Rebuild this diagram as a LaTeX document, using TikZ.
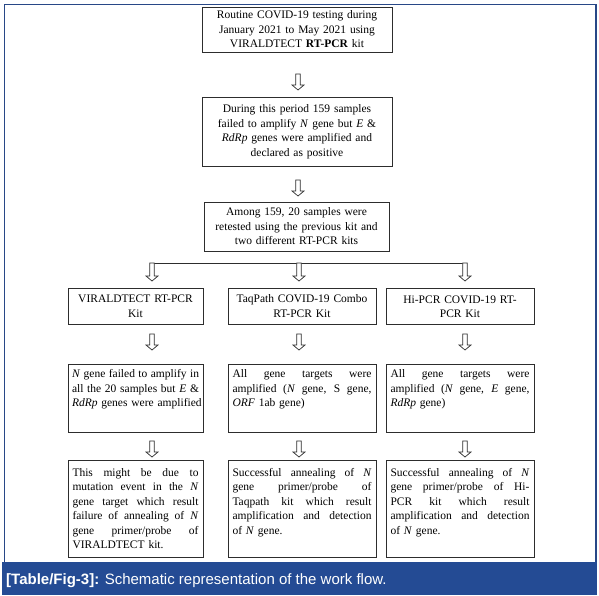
\documentclass[tikz,border=0pt]{standalone}
\usepackage{fontspec}
\setmainfont{Liberation Serif}
\newfontfamily\capfont{Liberation Sans}
\usetikzlibrary{calc}
\newcommand{\jline}[2]{\makebox[#1][s]{\spaceskip=\fontdimen2\font plus 1fil\relax #2}}
\definecolor{bandblue}{RGB}{36,75,148}
\definecolor{framec}{RGB}{40,72,135}
\definecolor{boxc}{RGB}{45,45,45}
\tikzset{
  box/.style={draw=boxc, line width=0.9pt, inner sep=0pt, font=\fontsize{11.5}{14.5}\selectfont},
  txt/.style={inner sep=0pt, font=\fontsize{11.5}{14.5}\selectfont},
  colw/.style={minimum width=#1, text width=#1-9pt},
  hollow/.style={draw=boxc, line width=0.7pt, fill=white,
    to path={let \p1=(\tikztostart), \p2=(\tikztotarget) in
      (\x1-2.3pt,\y1) -- (\x1+2.3pt,\y1) -- (\x1+2.3pt,\y2+5pt) -- (\x1+6pt,\y2+5pt)
      -- (\x1,\y2) -- (\x1-6pt,\y2+5pt) -- (\x1-2.3pt,\y2+5pt) -- cycle}},
  branch/.style={draw=boxc, line width=0.8pt}
}
\begin{document}
\begin{tikzpicture}[x=1pt,y=-1pt]
\useasboundingbox (0,0) rectangle (599,595);
% frame and caption band
\draw[framec, line width=1.3pt] (4.5,562) -- (4.5,4.5) -- (596,4.5) -- (596,562);
\fill[bandblue] (2,562) rectangle (597,595);
\node[anchor=base west, inner sep=0pt, text=white, font=\capfont\fontsize{15}{18}\selectfont] (cap) at (6,584)
  {\textbf{[Table/Fig-3]:} Schematic representation of the work flow.};

% top chain
\node[box, minimum width=190pt, minimum height=45pt, text width=182pt, align=center] (b1) at (297,29.5)
  {Routine COVID-19 testing during\\ January 2021 to May 2021 using\\ VIRALDTECT \textbf{RT-PCR} kit};
\node[box, minimum width=190pt, minimum height=69pt, text width=182pt, align=center] (b2) at (297,131.5)
  {During this period 159 samples\\ failed to amplify \textit{N} gene but \textit{E} \&\\ \textit{RdRp} genes were amplified and\\ declared as positive};
\node[box, minimum width=185pt, minimum height=49pt, text width=177pt, align=center] (b3) at (296.5,226.5)
  {Among 159, 20 samples were\\ retested using the previous kit and\\ two different RT-PCR kits};

% row 1
\node[box, colw=135pt, minimum height=36pt, align=center] (k1) at (135.5,306) {VIRALDTECT RT-PCR\\ Kit};
\node[box, colw=148pt, minimum height=36pt, align=center] (k2) at (302,306) {TaqPath COVID-19 Combo\\ RT-PCR Kit};
\node[box, colw=148pt, minimum height=36pt, align=center] (k3) at (460,306.5) {Hi-PCR COVID-19 RT-\\ PCR Kit};

% row 2
\node[box, minimum width=135pt, minimum height=68pt] (r1) at (135.5,398) {};
\node[box, minimum width=148pt, minimum height=68pt] (r2) at (302,398) {};
\node[box, minimum width=148pt, minimum height=68pt] (r3) at (460,398) {};
\node[txt, text width=127pt, align=left, anchor=north] (r1t) at ($(r1.north)+(0,6)$)
  {\jline{127pt}{\textit{N} gene failed to amplify in}\\ \jline{127pt}{all the 20 samples but \textit{E} \&}\\ \mbox{\textit{RdRp} genes were amplified}};
\node[txt, text width=139pt, align=left, anchor=north] (r2t) at ($(r2.north)+(0,6)$)
  {\jline{139pt}{All gene targets were}\\ \jline{139pt}{amplified (\textit{N} gene, S gene,}\\ \textit{ORF} 1ab gene)};
\node[txt, text width=139pt, align=left, anchor=north] (r3t) at ($(r3.north)+(0,6)$)
  {\jline{139pt}{All gene targets were}\\ \jline{139pt}{amplified (\textit{N} gene, \textit{E} gene,}\\ \textit{RdRp} gene)};

% row 3
\node[box, colw=135pt, minimum height=97pt, align=left] (c1) at (135.5,508.5)
  {\jline{126pt}{This might be due to}\\ \jline{126pt}{mutation event in the \textit{N}}\\ \jline{126pt}{gene target which result}\\ \jline{126pt}{failure of annealing of \textit{N}}\\ \jline{126pt}{gene primer/probe of}\\ VIRALDTECT kit.};
\node[box, colw=148pt, minimum height=97pt, align=left] (c2) at (302,508.5)
  {\jline{139pt}{Successful annealing of \textit{N}}\\ \jline{139pt}{gene primer/probe of}\\ \jline{139pt}{Taqpath kit which result}\\ \jline{139pt}{amplification and detection}\\ of \textit{N} gene.\\ \mbox{}};
\node[box, colw=148pt, minimum height=97pt, align=left] (c3) at (460,508.5)
  {\jline{139pt}{Successful annealing of \textit{N}}\\ \jline{139pt}{gene primer/probe of Hi-}\\ \jline{139pt}{PCR kit which result}\\ \jline{139pt}{amplification and detection}\\ of \textit{N} gene.\\ \mbox{}};

% arrow coordinates
\coordinate (a1s) at (298,74);  \coordinate (a1e) at (298,90);
\coordinate (a2s) at (298,180); \coordinate (a2e) at (298,196);
\coordinate (lA) at (152,263); \coordinate (lB) at (299,263); \coordinate (lC) at (465,263);
\coordinate (lAe) at (152,281); \coordinate (lBe) at (299,281); \coordinate (lCe) at (465,281);
\coordinate (m1s) at (152,334); \coordinate (m1e) at (152,350);
\coordinate (m2s) at (299,334); \coordinate (m2e) at (299,350);
\coordinate (m3s) at (465,334); \coordinate (m3e) at (465,350);
\coordinate (n1s) at (152,441); \coordinate (n1e) at (152,457);
\coordinate (n2s) at (299,441); \coordinate (n2e) at (299,457);
\coordinate (n3s) at (465,441); \coordinate (n3e) at (465,457);

\path[branch] (lA) -- (lC);
\draw[hollow] (a1s) to (a1e);
\draw[hollow] (a2s) to (a2e);
\draw[hollow] (lA) to (lAe);
\draw[hollow] (lB) to (lBe);
\draw[hollow] (lC) to (lCe);
\draw[hollow] (m1s) to (m1e);
\draw[hollow] (m2s) to (m2e);
\draw[hollow] (m3s) to (m3e);
\draw[hollow] (n1s) to (n1e);
\draw[hollow] (n2s) to (n2e);
\draw[hollow] (n3s) to (n3e);
\end{tikzpicture}
\end{document}
